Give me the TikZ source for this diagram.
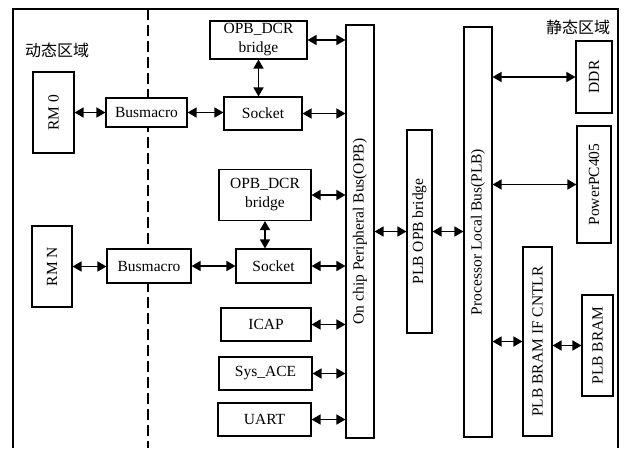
\documentclass[tikz,border=0pt]{standalone}
\usepackage{fontspec}
\setmainfont{Liberation Serif}
\newfontfamily\cjk{Noto Sans CJK SC}
\usetikzlibrary{arrows.meta}

\begin{document}
\begin{tikzpicture}[x=1pt,y=-1pt,
  font=\fontsize{15.5}{19}\selectfont,
  >={Triangle[length=9pt,width=10pt]},
  box/.style={draw,fill=white,line width=1.1pt,inner sep=0pt,align=center},
  link/.style={<->,line width=1.5pt}]
\useasboundingbox (0,0) rectangle (624,448);
% frame and region split
\draw[line width=1.1pt] (13,448) -- (13,9) -- (618,9) -- (618,448);
\draw[line width=1.1pt,dash pattern=on 11pt off 5pt] (148,9) -- (148,448);
\node[font=\cjk\fontsize{16}{19}\selectfont] (dyn) at (57,50) {动态区域};
\node[font=\cjk\fontsize{16}{19}\selectfont] (stat) at (578,27) {静态区域};

% dynamic part, first module
\node[box,rotate=90,minimum width=81pt,minimum height=41pt] (rmzero) at (53.5,112.5) {RM 0};
\node[box,minimum width=81pt,minimum height=29pt] (bmzero) at (146.5,112.5) {Busmacro};
\node[box,minimum width=78pt,minimum height=33pt] (sockzero) at (263,113.5) {Socket};
\node[box,minimum width=97pt,minimum height=38pt] (dcrzero) at (258.5,40) {OPB\_DCR\\bridge};

% dynamic part, module N
\node[box,rotate=90,minimum width=81pt,minimum height=40pt] (rmn) at (52,266.5) {RM N};
\node[box,minimum width=84pt,minimum height=34pt] (bmn) at (149,266) {Busmacro};
\node[box,minimum width=75pt,minimum height=34pt] (sockn) at (273.5,266) {Socket};
\node[box,minimum width=92pt,minimum height=51pt] (dcrn) at (265,195) {OPB\_DCR\\bridge};

% peripherals
\node[box,minimum width=90pt,minimum height=33pt] (icap) at (266,324.5) {ICAP};
\node[box,minimum width=93pt,minimum height=33pt] (sysace) at (265.5,373.5) {Sys\_ACE};
\node[box,minimum width=93pt,minimum height=33pt] (uart) at (264.5,419.5) {UART};

% buses
\node[box,rotate=90,minimum width=413pt,minimum height=28pt] (opb) at (360,231.5) {On chip Peripheral Bus(OPB)};
\node[box,rotate=90,minimum width=203pt,minimum height=25pt] (plbopb) at (419.5,231.5) {PLB OPB bridge};
\node[box,rotate=90,minimum width=410pt,minimum height=28pt] (plb) at (478,232) {Processor Local Bus(PLB)};

% static part
\node[box,rotate=90,minimum width=72pt,minimum height=36pt] (ddr) at (594,77) {DDR};
\node[box,rotate=90,minimum width=117pt,minimum height=34pt] (ppc) at (594,184.5) {PowerPC405};
\node[box,rotate=90,minimum width=189pt,minimum height=29pt] (bramif) at (537.5,341.5) {PLB BRAM IF CNTLR};
\node[box,rotate=90,minimum width=101pt,minimum height=31pt] (bram) at (597.5,345.5) {PLB BRAM};

% links
\draw[link] (rmzero.south) -- (bmzero.west);
\draw[link] (bmzero.east) -- (sockzero.west |- bmzero.east);
\draw[link] (sockzero.east) -- (sockzero.east -| opb.north);
\draw[link] (dcrzero.east) -- (dcrzero.east -| opb.north);
\draw[link] (dcrzero.south) -- (dcrzero.south |- sockzero.north);
\draw[link] (rmn.south) -- (bmn.west |- rmn.south);
\draw[link] (bmn.east) -- (sockn.west);
\draw[link] (sockn.east) -- (sockn.east -| opb.north);
\draw[link] (dcrn.east) -- (dcrn.east -| opb.north);
\draw[link] (dcrn.south) -- (dcrn.south |- sockn.north);
\draw[link] (icap.east) -- (icap.east -| opb.north);
\draw[link] (sysace.east) -- (sysace.east -| opb.north);
\draw[link] (uart.east) -- (uart.east -| opb.north);
\draw[link] (opb.south |- plbopb.north) -- (plbopb.north);
\draw[link] (plbopb.south) -- (plbopb.south -| plb.north);
\draw[link] (ddr.north -| plb.south) -- (ddr.north);
\draw[link] (ppc.north -| plb.south) -- (ppc.north);
\draw[link] (bramif.north -| plb.south) -- (bramif.north);
\draw[link] (bramif.south |- bram.north) -- (bram.north);
\end{tikzpicture}
\end{document}
